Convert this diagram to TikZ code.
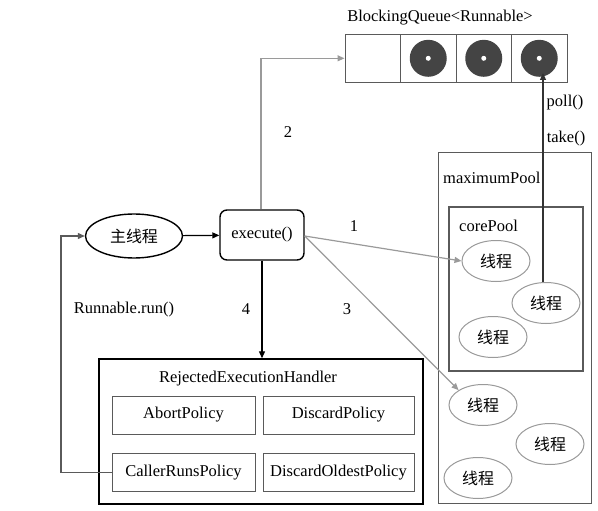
\documentclass[tikz,border=0pt]{standalone}
\usepackage{fontspec}
\setmainfont{Liberation Serif}
\newfontfamily\cjk{Noto Sans CJK SC}
\usetikzlibrary{arrows.meta,shapes.geometric}
\definecolor{lgray}{HTML}{9A9A9A}
\definecolor{dgray}{HTML}{5A5A5A}
\definecolor{ball}{HTML}{444444}
\begin{document}
\begin{tikzpicture}[x=1pt,y=-1pt,
  txt/.style={font=\fontsize{16.5}{18}\selectfont, inner sep=0pt},
  thr/.style={ellipse, draw=lgray, line width=1pt, minimum width=68pt, minimum height=41pt, inner sep=0pt, font=\cjk\fontsize{16}{18}\selectfont},
  pol/.style={draw=dgray, line width=1pt, minimum width=143pt, minimum height=38pt, inner sep=0pt, font=\fontsize{16.5}{18}\selectfont},
  garr/.style={draw=lgray, line width=1.2pt, -{Triangle[length=7pt,width=6pt]}},
  barr/.style={draw=black, line width=1.2pt, -{Triangle[length=7pt,width=6pt]}},
  cell/.style={draw=dgray, line width=1pt, minimum width=55.5pt, minimum height=48pt, inner sep=0pt},
]
\useasboundingbox (0,0) rectangle (598,511);

% queue
\node[txt] (qtitle) at (440,18) {BlockingQueue<Runnable>};
\node[cell] (c1) at (372.75,58.3) {};
\node[cell] (c2) at (428.25,58.3) {};
\node[cell] (c3) at (483.75,58.3) {};
\node[cell] (c4) at (539.25,58.3) {};
\foreach \c in {c2,c3,c4}{
  \fill[ball] (\c.center) circle (18.5pt);
  \fill[white] (\c.center) circle (2.5pt);
}

% main thread and execute
\node[ellipse, draw=black, line width=1.4pt, minimum width=97pt, minimum height=44pt, inner sep=0pt, font=\cjk\fontsize{16}{18}\selectfont] (main) at (134,236) {主线程};
\node[draw=black, line width=1.4pt, rounded corners=7pt, minimum width=84pt, minimum height=50pt, inner sep=0pt, txt] (exec) at (262,235) {execute()};

% pools
\node[draw=dgray, line width=1pt, minimum width=153pt, minimum height=350pt, inner sep=0pt] (maxp) at (514.5,328) {};
\node[txt, anchor=west] (maxl) at (443,178) {maximumPool};
\node[draw=dgray, line width=1.4pt, minimum width=134pt, minimum height=164pt, inner sep=0pt] (corep) at (516,289) {};
\node[txt, anchor=west] (corel) at (459,226) {corePool};

\node[thr] (t1) at (496,261) {线程};
\node[thr] (t2) at (546,303) {线程};
\node[thr] (t3) at (493,337) {线程};
\node[thr] (t4) at (483,405) {线程};
\node[thr] (t5) at (550,444) {线程};
\node[thr] (t6) at (478,478) {线程};

% handler
\node[draw=black, line width=1.4pt, minimum width=324pt, minimum height=145pt, inner sep=0pt] (hand) at (261,431.5) {};
\node[txt] (handl) at (248,379) {RejectedExecutionHandler};
\node[pol] (abort) at (183.5,415) {AbortPolicy};
\node[pol, minimum width=151pt] (disc) at (338.5,415) {DiscardPolicy};
\node[pol] (caller) at (183.5,472.5) {CallerRunsPolicy};
\node[pol, minimum width=151pt] (discold) at (338.5,472.5) {DiscardOldestPolicy};

% connectors
\draw[barr] (main) -- (exec);
\coordinate (q2) at (261,58.3);
\draw[garr] (exec.north -| q2) -- (q2) -- (c1.west);
\node[txt] (l2) at (288,132) {2};
\draw[garr] (exec.east) ++(0,1) coordinate (e1) -- (t1.west);
\node[txt] (l1) at (354,226) {1};
\draw[garr] (e1) -- (t4.north west);
\node[txt] (l3) at (347,309) {3};
\draw[barr] (exec.south) -- (exec.south |- hand.north);
\node[txt] (l4) at (246,309) {4};
\node[txt] (lrun) at (124,310) {Runnable.run()};
\coordinate (lp1) at (61,472.5);
\coordinate (lp2) at (61,236);
\draw[draw=dgray, line width=1.2pt, -{Triangle[length=7pt,width=6pt]}] (caller.west) -- (lp1) -- (lp2) -- (main.west);
\coordinate (qt) at (543,73);
\draw[draw=black!80, line width=1.2pt, -{Triangle[length=7pt,width=6pt]}] (t2.north -| qt) -- (qt);
\node[txt] (lpoll) at (565,103) {poll()};
\node[txt] (ltake) at (566,139) {take()};
\end{tikzpicture}
\end{document}
